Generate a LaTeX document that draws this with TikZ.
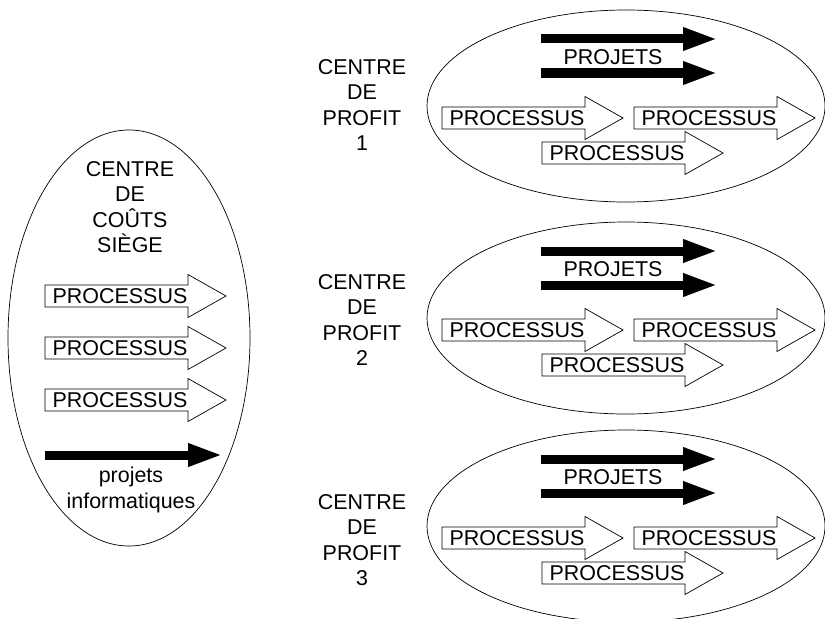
\documentclass[tikz,border=0pt]{standalone}
\usepackage{fontspec}
\setmainfont{Liberation Sans}
\usetikzlibrary{shapes.geometric, arrows.meta}

% white process arrow: name, x, y (left end of the shaft, middle)
\newcommand{\procarrow}[3]{%
  \draw[procline] (#2,#3-11) -- ++(143,0) -- ++(0,-10.5) -- (#2+181,#3)
    -- (#2+143,#3+21.5) -- ++(0,-10.5) -- (#2,#3+11) -- cycle;
  \node[proclabel] (#1) at (#2+75,#3) {PROCESSUS};
}

\begin{document}
\begin{tikzpicture}[
    x=0.03cm, y=-0.03cm,
    zone/.style={ellipse, draw=black, line width=0.6pt, inner sep=0pt},
    procline/.style={draw=black, fill=white, line width=0.6pt, line join=miter},
    proclabel/.style={inner sep=0pt, font=\fontsize{18.3}{21.7}\selectfont},
    projarrow/.style={line width=0.27cm, -{Triangle[length=1.05cm, width=0.63cm]}},
    centrelabel/.style={align=center, inner sep=0pt, font=\fontsize{18.3}{21.7}\selectfont}
    ]
    \useasboundingbox (0,0) rectangle (825,618);

    % Centre de couts siege
    \node (siege) [zone, minimum width=7.26cm, minimum height=12.48cm] at (129,338) {};
    \node (siegelabel) [centrelabel] at (130,207) {CENTRE\\DE\\COÛTS\\SIÈGE};
    \procarrow{siegeA}{45}{296}
    \procarrow{siegeB}{45}{348}
    \procarrow{siegeC}{45}{400}
    \draw [projarrow] (45,455) -- (223,455);
    \node (info) [centrelabel] at (131,490) {projets\\informatiques};

    % Centres de profit
    \foreach \n/\dy/\ly in {1/0/105, 2/212/320, 3/420/540} {
        \node (profit\n) [zone, minimum width=11.94cm, minimum height=5.76cm] at (626,106+\dy) {};
        \node (label\n) [centrelabel] at (362,\ly) {CENTRE\\DE\\PROFIT\\\n};
        \draw [projarrow] (541,39+\dy) -- (718,39+\dy);
        \draw [projarrow] (541,73+\dy) -- (718,73+\dy);
        \node (projets\n) [proclabel] at (613,57+\dy) {PROJETS};
        \procarrow{proc\n a}{442}{118+\dy}
        \procarrow{proc\n b}{634}{118+\dy}
        \procarrow{proc\n c}{542}{153+\dy}
    }

\end{tikzpicture}
\end{document}
